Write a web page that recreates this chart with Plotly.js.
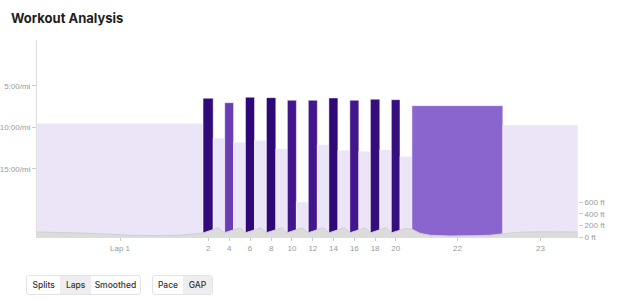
<!DOCTYPE html>
<html>
<head>
<meta charset="utf-8">
<script src="https://cdn.plot.ly/plotly-3.0.1.min.js"></script>
<style>
  html, body { margin:0; padding:0; background:#fff; }
  #wrap { position:relative; width:635px; height:300px; overflow:hidden; }
  #chart { position:absolute; left:0; top:0; width:635px; height:300px; }
  .grp { position:absolute; box-sizing:border-box; border:1px solid #e3e3e6; border-radius:3px;
         background:#fff; display:flex; overflow:hidden; font-family:Inter, "Liberation Sans", sans-serif;
         font-size:8.5px; font-weight:500; color:#333; }
  .grp span { display:flex; align-items:center; justify-content:center; height:100%; }
  .grp span.on { background:#eeeef1; }
</style>
</head>
<body>
<div id="wrap">
  <div id="chart"></div>
  <div class="grp" style="left:26px;top:275px;width:115px;height:20px">
    <span style="width:34px">Splits</span><span class="on" style="width:31px">Laps</span><span style="width:50px">Smoothed</span>
  </div>
  <div class="grp" style="left:152px;top:275px;width:61px;height:20px">
    <span style="width:31px">Pace</span><span class="on" style="width:30px">GAP</span>
  </div>
</div>
<script>
// ---- data ----
const lapLabels = ['Lap 1','2','3','4','5','6','7','8','9','10','11','12','13','14','15','16','17','18','19','20','21','22','23'];
const lapDistMi = [4.44,0.27,0.31,0.235,0.32,0.24,0.32,0.25,0.31,0.24,0.32,0.24,0.31,0.24,0.32,0.24,0.31,0.25,0.31,0.23,0.32,2.43,2.01];
const lapPaceMin = [9.51,6.49,11.29,7.02,11.81,6.37,11.57,6.41,12.58,6.73,19.03,6.73,12.10,6.45,12.78,6.73,12.90,6.61,12.70,6.66,13.50,7.38,9.72];
const shownLapTicks = ['Lap 1','2','4','6','8','10','12','14','16','18','20','22','23'];

const paceTickVals = [5,10,15];
const paceTickText = ['5:00/mi','10:00/mi','15:00/mi'];

const elevDistMi = [0.00,0.61,1.42,1.95,2.49,3.29,3.82,4.22,4.44,4.71,4.84,5.01,5.25,5.43,5.57,5.81,5.99,6.13,6.38,6.55,6.69,6.93,7.09,7.25,7.49,7.65,7.81,8.05,8.21,8.37,8.61,8.77,8.92,9.17,9.33,9.48,9.71,9.87,10.03,10.24,10.51,11.04,11.58,12.11,12.46,12.91,13.45,13.98,14.47];
const elevFt     = [87,82,64,47,30,24,33,56,70,129,160,73,125,160,73,125,160,73,125,160,73,125,160,73,125,160,73,125,160,73,125,160,73,125,160,73,125,150,134,64,30,17,21,30,56,82,90,87,87];

const elevTickVals = [0,200,400,600];
const elevTickText = ['0 ft','200 ft','400 ft','600 ft'];

// ---- derived geometry ----
const starts = [];
let acc = 0;
lapDistMi.forEach(d => { starts.push(acc); acc += d; });
const totalMi = acc;
const centers = lapDistMi.map((d,i) => starts[i] + d/2);
const paceBottom = 23.26, paceTop = -0.56;

const tickVals = shownLapTicks.map(l => centers[lapLabels.indexOf(l)]);

const lapTrace = {
  type:'bar', x:centers, width:lapDistMi,
  base: lapPaceMin.map(() => paceBottom),
  y: lapPaceMin.map(p => p - paceBottom),
  marker:{
    color: lapPaceMin, cmin:6.4, cmax:9.5,
    colorscale:[[0,'#2e0878'],[0.09,'#37107f'],[0.11,'#45188f'],[0.2,'#6a3db5'],[0.32,'#8c66cf'],[0.6,'#c9b6ec'],[1,'#ece5f8']],
    showscale:false,
    line:{color:'rgba(255,255,255,0.45)', width:1}
  },
  hoverinfo:'skip', showlegend:false
};

const elevTrace = {
  type:'scatter', mode:'lines', x:elevDistMi, y:elevFt, yaxis:'y2',
  fill:'tozeroy', fillcolor:'#dcdcdc', line:{color:'#d0d0d0', width:1, shape:'linear'},
  hoverinfo:'skip', showlegend:false
};

const axisFont = {family:'"Liberation Sans", Arial, sans-serif', size:8, color:'#9a9a9a'};

const layout = {
  width:635, height:300,
  margin:{l:37, r:57, t:40, b:63},
  paper_bgcolor:'#fff', plot_bgcolor:'#fff',
  title:{text:'<b>Workout Analysis</b>', font:{family:'Inter, "Liberation Sans", sans-serif', size:13, color:'#1e1e1e'},
         xref:'container', yref:'container', x:11/635, xanchor:'left', y:1-18/300, yanchor:'middle'},
  xaxis:{range:[0,totalMi], tickvals:tickVals, ticktext:shownLapTicks, tickfont:axisFont,
         ticks:'outside', ticklen:3, tickcolor:'#cccccc', showgrid:false, zeroline:false,
         showline:true, linecolor:'#dddddd', linewidth:1, fixedrange:true},
  yaxis:{range:[paceBottom, paceTop], tickvals:paceTickVals, ticktext:paceTickText, tickfont:axisFont,
         ticks:'outside', ticklen:4, tickcolor:'#cccccc', showgrid:false, zeroline:false,
         showline:true, linecolor:'#dddddd', linewidth:1, fixedrange:true},
  yaxis2:{overlaying:'y', side:'right', range:[0,3420], tickvals:elevTickVals, ticktext:elevTickText,
          tickfont:axisFont, ticks:'outside', ticklen:4, tickcolor:'#cccccc',
          showgrid:false, zeroline:false, showline:false, fixedrange:true},
  bargap:0
};

Plotly.newPlot('chart', [lapTrace, elevTrace], layout, {displayModeBar:false, staticPlot:true});
</script>
</body>
</html>
